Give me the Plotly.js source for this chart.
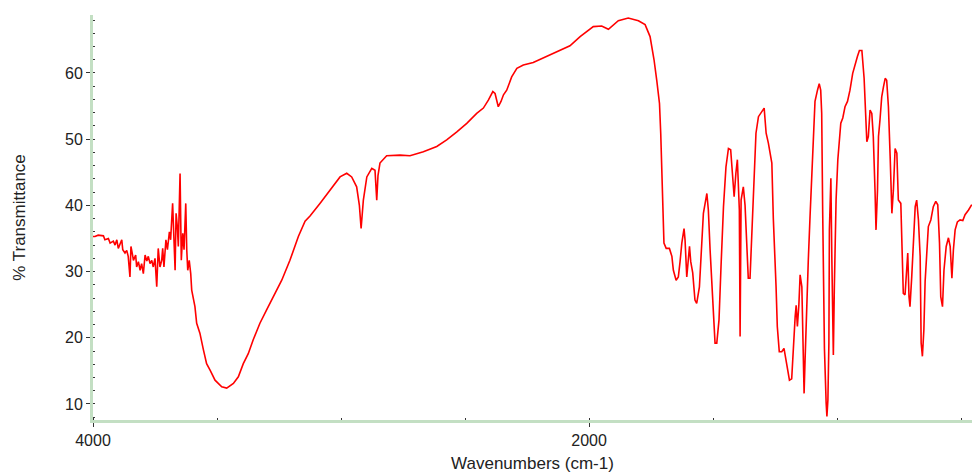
<!DOCTYPE html>
<html>
<head>
<meta charset="utf-8">
<script src="https://cdn.plot.ly/plotly-3.0.1.min.js"></script>
<style>
  html, body { margin: 0; padding: 0; background: #ffffff; }
  #chart { width: 972px; height: 474px; }
</style>
</head>
<body>
<div id="chart"></div>
<script>
// Wavenumbers (cm-1), descending
const wavenumbers = [
  4000,3992,3979,3958,3952,3938,3931,3918,3911,3904,
  3898,3891,3884,3880,3871,3864,3858,3851,3847,3841,
  3837,3828,3824,3817,3810,3804,3797,3790,3783,3777,
  3770,3763,3757,3750,3743,3737,3730,3723,3719,3714,
  3706,3700,3692,3687,3679,3673,3669,3665,3660,3656,
  3649,3644,3638,3633,3626,3622,3618,3612,3606,3602,
  3589,3582,3569,3555,3542,
  3528,3508,3481,3461,3434,3414,3394,3374,3354,3327,
  3300,3273,3239,3206,3172,3145,3125,3085,3044,3004,
  2977,2957,2937,2926,2919,2910,2896,2876,2863,2856,
  2851,2843,2816,2762,2722,2668,2614,2574,2533,2493,
  2453,2426,2406,2388,2379,2366,2355,2345,2332,2312,
  2291,2265,2225,2171,2117,2077,2036,1983,1949,1922,
  1882,1842,1801,1774,1754,1738,1727,1716,1711,1707,
  1703,1698,1689,1676,1666,1660,1649,1640,1633,1626,
  1617,1613,1606,1600,1595,1590,1582,1573,1566,1555,
  1548,1539,1525,1519,1512,1505,1499,1492,1485,1476,
  1468,1458,1448,1438,1429,1420,1415,1408,1402,1394,
  1391,1387,1378,1371,1364,1358,1351,1344,1337,1327,
  1317,1304,1294,1286,1277,1263,1257,1246,1241,1233,
  1223,1214,1203,1192,1183,1176,1169,1165,1160,1154,
  1149,1142,1138,1133,1129,1122,1116,1109,1102,1095,
  1089,1079,1072,1066,1062,1058,1051,1044,1041,1037,
  1033,1031,1025,1021,1015,1011,1004,997,991,985,
  977,968,958,948,937,927,918,910,900,891,
  884,880,874,867,860,854,847,843,837,833,
  827,820,813,806,800,793,786,779,773,766,
  759,753,743,737,733,726,719,715,710,706,
  699,692,685,679,672,665,661,656,650,645,
  638,632,622,612,602,594,587,582,575,569,
  560,551,544,537,531,524,515,504,493,484,
  470,457
];

// % Transmittance at each wavenumber
const transmittance = [
  35.3,35.3,35.5,35.4,34.8,35.0,34.3,34.6,34.0,34.8,
  33.5,34.3,34.8,33.3,32.8,33.2,32.3,29.2,33.8,32.6,
  31.7,32.5,30.7,31.5,30.2,31.2,29.7,32.5,31.6,32.3,
  31.2,31.7,30.7,32.0,27.7,33.5,30.7,31.7,33.5,30.7,
  34.8,33.3,36.0,34.8,40.3,34.3,30.2,38.8,36.8,33.8,
  44.8,31.7,35.8,33.3,40.3,33.3,30.2,31.7,29.7,27.2,
  24.7,22.2,20.7,18.2,16.1,
  15.1,13.6,12.6,12.4,13.1,14.1,16.1,17.6,19.7,22.2,
  24.2,26.2,28.7,31.7,35.3,37.6,38.4,40.3,42.3,44.3,
  44.85,44.3,42.8,40.0,36.5,40.8,44.3,45.6,45.3,40.8,
  44.5,46.4,47.5,47.6,47.5,48.1,48.9,49.9,51.1,52.4,
  53.9,54.7,55.9,57.2,56.9,54.9,55.7,56.7,57.4,59.4,
  60.7,61.2,61.6,62.5,63.5,64.1,65.5,67.0,67.1,66.6,
  67.9,68.3,67.9,67.3,65.5,62.0,58.9,55.4,50.9,44.8,
  37.8,34.3,33.5,33.5,32.3,30.2,28.7,29.2,31.5,34.3,
  36.5,34.8,29.2,31.7,33.8,31.5,29.8,25.7,25.2,27.7,
  32.8,38.8,41.8,39.3,33.3,28.7,25.2,19.2,19.2,22.7,
  30.7,39.8,45.8,48.6,48.4,43.8,41.3,44.85,46.9,39.3,
  20.2,40.8,42.8,40.0,32.3,29.0,29.0,35.8,42.8,50.9,
  53.4,54.2,54.7,50.9,49.4,46.4,38.0,27.7,21.7,17.9,
  17.9,18.4,16.1,13.6,13.8,19.7,23.2,24.9,21.7,25.0,
  29.5,27.7,17.2,11.6,16.7,26.2,31.7,38.3,43.8,49.9,
  55.7,57.4,58.4,57.4,53.9,39.0,18.4,10.1,8.1,10.6,
  19.2,36.3,44.1,31.7,17.4,27.7,40.8,46.9,49.9,52.4,
  53.2,54.9,55.7,57.4,59.95,61.5,62.5,63.4,63.4,59.2,
  52.9,49.6,50.4,54.4,53.9,50.4,42.3,36.3,42.3,50.4,
  52.9,56.4,57.9,59.2,58.9,54.9,47.4,38.8,42.3,48.6,
  47.9,40.8,40.3,31.2,26.7,26.5,30.7,32.8,26.2,24.7,
  29.2,35.8,39.8,40.8,37.8,32.3,19.2,17.2,21.2,28.5,
  34.3,36.8,37.8,39.8,40.6,40.1,34.3,26.2,24.7,30.2,
  33.8,35.1,33.8,29.0,33.3,36.3,37.5,37.8,37.7,38.6,
  39.3,40.1
];

const xTickVals = [4000, 2000];
const xTickText = ['4000', '2000'];
const yTickVals = [10, 20, 30, 40, 50, 60];
const yTickText = ['10', '20', '30', '40', '50', '60'];

const axisGreen = '#c3dfc3';
const textColor = '#222222';
const fontFamily = 'Liberation Sans, Arial, sans-serif';

const trace = {
  x: wavenumbers,
  y: transmittance,
  type: 'scatter',
  mode: 'lines',
  line: { color: '#ff0000', width: 1.6 },
  hoverinfo: 'skip'
};

const layout = {
  width: 972,
  height: 474,
  margin: { l: 93, r: 0, t: 15, b: 54, pad: 0 },
  paper_bgcolor: '#ffffff',
  plot_bgcolor: '#ffffff',
  showlegend: false,
  font: { family: fontFamily, size: 17, color: textColor },
  xaxis: {
    range: [4000, 456],
    tickmode: 'array',
    tickvals: xTickVals,
    ticktext: xTickText,
    ticks: 'outside',
    ticklen: 4,
    tickwidth: 1,
    tickcolor: '#333333',
    showline: true,
    linecolor: axisGreen,
    linewidth: 3,
    showgrid: false,
    zeroline: false,
    automargin: false,
    tickfont: { family: fontFamily, size: 16, color: textColor },
    minor: { dtick: 500, tick0: 0, ticks: 'inside', ticklen: 2, tickcolor: '#333333', tickwidth: 1, showgrid: false },
    title: { text: 'Wavenumbers (cm-1)', font: { family: fontFamily, size: 17, color: textColor }, standoff: 9 }
  },
  yaxis: {
    range: [7.58, 68.76],
    tickmode: 'array',
    tickvals: yTickVals,
    ticktext: yTickText,
    ticks: 'outside',
    ticklen: 4,
    tickwidth: 1,
    tickcolor: '#333333',
    showline: true,
    linecolor: axisGreen,
    linewidth: 3,
    showgrid: false,
    zeroline: false,
    automargin: false,
    tickfont: { family: fontFamily, size: 16, color: textColor },
    minor: { dtick: 2, tick0: 0, ticks: 'inside', ticklen: 2, tickcolor: '#333333', tickwidth: 1, showgrid: false },
    title: { text: '% Transmittance', font: { family: fontFamily, size: 17, color: textColor }, standoff: 36 }
  }
};

Plotly.newPlot('chart', [trace], layout, { staticPlot: true, displayModeBar: false });
</script>
</body>
</html>
